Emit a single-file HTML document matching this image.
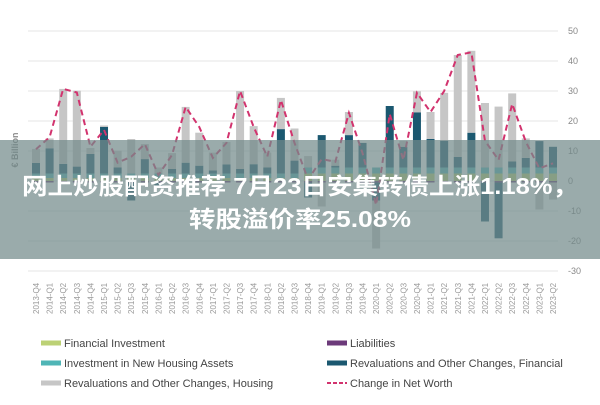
<!DOCTYPE html>
<html><head><meta charset="utf-8"><style>
body{margin:0;width:600px;height:400px;background:#fff;overflow:hidden;font-family:"Liberation Sans","Noto Sans CJK SC",sans-serif;}
</style></head><body>
<svg id="c" width="600" height="400"></svg>
<script>
const categories=["2013-Q4","2014-Q1","2014-Q2","2014-Q3","2014-Q4","2015-Q1","2015-Q2","2015-Q3","2015-Q4","2016-Q1","2016-Q2","2016-Q3","2016-Q4","2017-Q1","2017-Q2","2017-Q3","2017-Q4","2018-Q1","2018-Q2","2018-Q3","2018-Q4","2019-Q1","2019-Q2","2019-Q3","2019-Q4","2020-Q1","2020-Q2","2020-Q3","2020-Q4","2021-Q1","2021-Q2","2021-Q3","2021-Q4","2022-Q1","2022-Q2","2022-Q3","2022-Q4","2023-Q1","2023-Q2"];
const finInv=[1,1,1,1,1,1,1,1,1,1,1,1,1,1,1,1,1,1,1,1,2.5,2.5,2.5,2.5,2.5,2.5,2.5,2.5,2.5,2.5,2.5,2.5,2.5,2.5,2.5,2.5,2.5,2.5,2.5];
const houseInv=[1.5,1.5,1.5,1.5,1.5,1.5,1.5,1.5,1.5,1.5,1.5,1.5,1.5,1.5,1.5,1.5,1.5,1.5,1.5,1.5,2,2,2,2,2,2,2,2,2,2,2,2,2,2,2,2,2,2,2];
const liab=[-0.5,-0.5,-0.5,-0.5,-0.5,-0.5,-0.5,-0.5,-0.5,-0.5,-0.5,-0.5,-0.5,-0.5,-0.5,-0.5,-0.5,-0.5,-0.5,-0.5,-0.5,-0.5,-0.5,-0.5,-0.5,-0.5,-0.5,-0.5,-0.5,-0.5,-0.5,-0.5,-0.5,-0.5,-0.5,-0.5,-0.5,-0.5,-0.5];
const revFin=[3.5,8.4,3.2,2.3,6.5,15.5,2,-6,4.8,-1,1.5,3.6,2.6,1,3,1.5,3.1,2,14.8,4.3,-5,10.8,0.6,10.8,8.2,-6,20.5,6.9,18.4,9.5,8.9,3.5,11.6,-13,-18.6,2,3.2,8.8,6.9];
const revHouse=[4.7,3.3,25,25.3,2,0.5,5.6,11.5,5,2,5.3,18.6,11,6,7.5,26,12.7,5,10.4,10.7,3.8,-8,2,7.7,0,-16,0,2,7,9,16,34,27.3,21.5,20.3,22.7,6.5,-9,-5.7];
const netWorth=[10.6,14.6,30.7,29.5,11.4,17,6.1,8.1,12.3,2,8.7,24.7,18,7.7,12.7,30,18,8.1,27,12.7,0.5,7.3,6.4,22.7,9.3,-8,22.3,7,29.4,23,30,42,42.9,13.4,7,25.7,13.1,4.2,5.9];
const yTicks=[50,40,30,20,10,0,-10,-20,-30];
const NS="http://www.w3.org/2000/svg";
const svg=document.getElementById('c');
function xS(i){return 36+i*(517/(categories.length-1));}
function yS(v){return 181-v*3;}
function mk(t,a,p){const e=document.createElementNS(NS,t);for(const k in a)e.setAttribute(k,a[k]);(p||svg).appendChild(e);return e;}
yTicks.forEach(t=>{
 const l=mk('line',{x1:28,x2:558,y1:yS(t),y2:yS(t),stroke:'#e6e6e6','stroke-width':1});
 
 
 const tx=mk('text',{x:568,y:yS(t)+3,'font-size':9,fill:'#888'});tx.textContent=t;
 
 
});
const colors={fin:'#bcd175',hi:'#4fb5b6',rf:'#1b5870',rh:'#c6c6c6',li:'#6c3a7a'};
categories.forEach((c,i)=>{
 const x=xS(i)-4,w=8;let pos=0,neg=0;
 const parts=[[finInv[i],colors.fin,'bar-financial-investment'],[houseInv[i],colors.hi,'bar-housing-investment'],[liab[i],colors.li,'bar-liabilities'],[revFin[i],colors.rf,'bar-revaluation-financial'],[revHouse[i],colors.rh,'bar-revaluation-housing']];
 parts.forEach(p=>{
  const v=p[0];let y0,y1;
  if(v>=0){y0=pos;y1=pos+v;pos=y1;}else{y0=neg;y1=neg+v;neg=y1;}
  const r=mk('rect',{x:x,width:w,y:Math.min(yS(y0),yS(y1)),height:Math.abs(yS(y0)-yS(y1)),fill:p[1]});
  
  
 });
 const t=mk('text',{transform:`translate(${xS(i)+3},314) rotate(-90)`,'font-size':8,fill:'#999'});t.textContent=c;
 
 
});
const pl=mk('polyline',{points:netWorth.map((v,i)=>xS(i)+','+yS(v)).join(' '),fill:'none',stroke:'#d2336e','stroke-width':2,'stroke-dasharray':'6,4'});


const yt=mk('text',{transform:'translate(18,150) rotate(-90)','font-size':9,'font-weight':'bold',fill:'#888','text-anchor':'middle'});yt.textContent='€ Billion';


const band=mk('rect',{x:0,y:140,width:600,height:119,fill:'rgba(115,138,138,0.72)'});


const t1=mk('text',{x:22,y:194,'font-size':23,'font-weight':'bold',fill:'#fff',textLength:556,lengthAdjust:'spacingAndGlyphs'});t1.textContent='网上炒股配资推荐 7月23日安集转债上涨1.18%，';


const t2=mk('text',{x:189,y:227,'font-size':23,'font-weight':'bold',fill:'#fff',textLength:222,lengthAdjust:'spacingAndGlyphs'});t2.textContent='转股溢价率25.08%';


const legend=[['Financial Investment',colors.fin,41,343,0],['Investment in New Housing Assets',colors.hi,41,363,0],['Revaluations and Other Changes, Housing',colors.rh,41,383,0],['Liabilities',colors.li,327,343,0],['Revaluations and Other Changes, Financial',colors.rf,327,363,0],['Change in Net Worth','#d2336e',327,383,1]];
legend.forEach(l=>{
 let s;
 if(l[4]) s=mk('line',{x1:l[2],x2:l[2]+20,y1:l[3],y2:l[3],stroke:l[1],'stroke-width':2,'stroke-dasharray':'4,2'});
 else s=mk('rect',{x:l[2],y:l[3]-2.5,width:20,height:5,fill:l[1]});
 
 
 const t=mk('text',{x:l[2]+23,y:l[3]+4,'font-size':11,fill:'#444'});t.textContent=l[0];
 
 
});
</script>
</body></html>
